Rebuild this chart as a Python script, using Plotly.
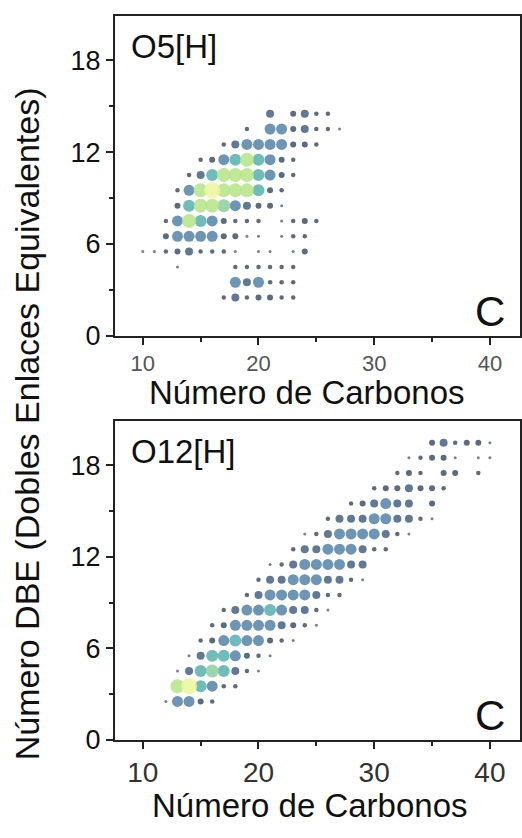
import plotly.graph_objects as go

# ---------------- Data: O5[H] (top panel) ----------------
o5_dbe_rows = [14.5, 13.5, 12.5, 11.5, 10.5, 9.5, 8.5, 7.5, 6.5, 5.5, 4.5, 3.5, 2.5]
o5_carbons_by_row = [
    [21, 23, 24, 25, 26],
    [19, 21, 22, 23, 24, 25, 26, 27],
    [17, 18, 19, 20, 21, 22, 23, 24, 25],
    [15, 16, 17, 18, 19, 20, 21, 22, 23],
    [14, 15, 16, 17, 18, 19, 20, 21, 22, 23],
    [13, 14, 15, 16, 17, 18, 19, 20, 21, 22],
    [13, 14, 15, 16, 17, 18, 19, 20, 21, 22],
    [12, 13, 14, 15, 16, 17, 18, 19, 20, 22, 23, 24, 25],
    [12, 13, 14, 15, 16, 17, 18, 19, 20, 22, 23, 24],
    [10, 11, 12, 13, 14, 15, 16, 17, 18, 20, 21, 23, 24],
    [13, 18, 19, 20, 21, 22, 23],
    [18, 19, 20, 21, 22, 23],
    [17, 18, 19, 20, 21, 22, 23],
]
o5_intensity_by_row = [
    [4, 3, 4, 2, 2],
    [2, 5, 5, 3, 4, 2, 2, 1],
    [2, 4, 5, 5, 5, 5, 3, 3, 2],
    [2, 3, 5, 6, 8, 6, 5, 3, 2],
    [2, 4, 6, 8, 8, 8, 6, 5, 3, 2],
    [2, 5, 8, 9, 8, 8, 8, 6, 3, 2],
    [3, 6, 8, 8, 7, 5, 4, 3, 3, 1],
    [2, 5, 8, 6, 5, 3, 2, 2, 2, 1, 2, 3, 2],
    [3, 5, 5, 5, 5, 3, 3, 1, 1, 1, 2, 2],
    [1, 1, 2, 3, 4, 2, 2, 2, 1, 1, 1, 1, 3],
    [1, 2, 2, 2, 2, 2, 2],
    [5, 4, 5, 2, 2, 2],
    [2, 4, 2, 3, 3, 2, 2],
]

# ---------------- Data: O12[H] (bottom panel) ----------------
o12_dbe_rows = [19.5, 18.5, 17.5, 16.5, 15.5, 14.5, 13.5, 12.5, 11.5, 10.5,
                9.5, 8.5, 7.5, 6.5, 5.5, 4.5, 3.5, 2.5]
o12_carbons_by_row = [
    [35, 36, 37, 38, 39, 40],
    [33, 34, 35, 36, 37, 39, 40],
    [32, 33, 34, 36, 37, 39],
    [30, 31, 32, 33, 34, 35, 36],
    [28, 29, 30, 31, 32, 33, 35],
    [26, 27, 28, 29, 30, 31, 32, 33, 34, 35],
    [24, 25, 26, 27, 28, 29, 30, 31, 32, 33],
    [23, 24, 25, 26, 27, 28, 29, 30, 31],
    [21, 22, 23, 24, 25, 26, 27, 28, 29],
    [20, 21, 22, 23, 24, 25, 26, 27, 28, 29],
    [19, 20, 21, 22, 23, 24, 25, 26, 27],
    [17, 18, 19, 20, 21, 22, 23, 24, 25, 26],
    [16, 17, 18, 19, 20, 21, 22, 23, 24, 25],
    [15, 16, 17, 18, 19, 20, 21, 22, 23],
    [14, 15, 16, 17, 18, 19, 20, 21],
    [13, 14, 15, 16, 17, 18, 19, 20],
    [13, 14, 15, 16, 17, 18],
    [12, 13, 14, 15, 16],
]
o12_intensity_by_row = [
    [3, 4, 2, 3, 3, 1],
    [1, 2, 3, 3, 1, 1, 1],
    [2, 3, 2, 3, 3, 2],
    [2, 3, 3, 4, 3, 3, 2],
    [2, 3, 4, 5, 4, 4, 3],
    [2, 4, 4, 4, 5, 5, 4, 4, 2, 1],
    [1, 2, 4, 5, 5, 5, 5, 4, 2, 1],
    [2, 4, 4, 5, 5, 5, 4, 2, 2],
    [1, 2, 4, 5, 5, 5, 5, 4, 4],
    [2, 4, 4, 5, 5, 5, 4, 4, 2, 1],
    [2, 4, 5, 5, 5, 5, 4, 2, 2],
    [2, 4, 5, 5, 6, 5, 4, 4, 2, 1],
    [2, 3, 5, 5, 5, 5, 4, 3, 2, 1],
    [2, 3, 5, 6, 5, 5, 3, 2, 1],
    [1, 4, 6, 6, 5, 3, 2, 1],
    [1, 4, 6, 7, 6, 4, 2, 1],
    [8, 9, 6, 5, 2, 2],
    [1, 5, 5, 3, 2],
]

x_tick_labels = ["10", "20", "30", "40"]
y_tick_labels = ["0", "6", "12", "18"]
panel_labels = ["O5[H]", "O12[H]"]

# ---------------- Styling helpers ----------------
FONT = "Liberation Sans, Arial, sans-serif"
SIZE_BY_LEVEL = {1: 3, 2: 4.5, 3: 6, 4: 8, 5: 11, 6: 12, 7: 13, 8: 14, 9: 16}
COLORSCALE = [
    [0.000, "#66707a"],
    [0.125, "#4b5868"],
    [0.250, "#46566b"],
    [0.375, "#4d6784"],
    [0.500, "#5a86a8"],
    [0.625, "#5cb3b0"],
    [0.750, "#8fd0a0"],
    [0.875, "#b8e48a"],
    [1.000, "#ecf69e"],
]


def flatten(rows, carbons, intens):
    xs, ys, ls = [], [], []
    for d, cs, li in zip(rows, carbons, intens):
        for c, l in zip(cs, li):
            xs.append(c)
            ys.append(d)
            ls.append(l)
    order = sorted(range(len(ls)), key=lambda i: ls[i])
    return [xs[i] for i in order], [ys[i] for i in order], [ls[i] for i in order]


fig = go.Figure()

for idx, (rows, cs, li) in enumerate([
    (o5_dbe_rows, o5_carbons_by_row, o5_intensity_by_row),
    (o12_dbe_rows, o12_carbons_by_row, o12_intensity_by_row),
]):
    x, y, lv = flatten(rows, cs, li)
    fig.add_trace(go.Scatter(
        x=x, y=y, mode="markers",
        xaxis="x" if idx == 0 else "x2",
        yaxis="y" if idx == 0 else "y2",
        marker=dict(
            size=[SIZE_BY_LEVEL[v] for v in lv],
            color=lv, cmin=1, cmax=9, colorscale=COLORSCALE,
            opacity=0.88, line=dict(width=0),
        ),
        showlegend=False, hoverinfo="x+y",
    ))

W, H = 522, 838
x_dom = [115 / W, 520 / W]
top_dom = [1 - 342 / H, 1 - 16 / H]
bot_dom = [1 - 753 / H, 1 - 429 / H]


def xaxis(domain_anchor, tick_color, tick_size):
    return dict(
        domain=x_dom, anchor=domain_anchor, range=[7.6, 42.6],
        tickmode="array", tickvals=[10, 20, 30, 40], ticktext=x_tick_labels,
        ticks="outside", ticklen=7, tickwidth=2, tickcolor="#222",
        minor=dict(tickmode="array", tickvals=[15, 25, 35], ticks="outside",
                   ticklen=4, tickwidth=2, tickcolor="#222"),
        showline=True, linecolor="#222", linewidth=2, mirror=True,
        showgrid=False, zeroline=False,
        tickfont=dict(family=FONT, size=tick_size, color=tick_color),
    )


def yaxis(domain, anchor):
    return dict(
        domain=domain, anchor=anchor, range=[0, 20.9],
        tickmode="array", tickvals=[0, 6, 12, 18], ticktext=y_tick_labels,
        ticks="outside", ticklen=7, tickwidth=2, tickcolor="#222",
        minor=dict(tickmode="array", tickvals=[3, 9, 15], ticks="outside",
                   ticklen=4, tickwidth=2, tickcolor="#222"),
        showline=True, linecolor="#222", linewidth=2, mirror=True,
        showgrid=False, zeroline=False,
        tickfont=dict(family=FONT, size=27, color="#111"),
    )


annotations = [
    dict(text=panel_labels[0], xref="x domain", yref="y domain", x=0.035, y=0.905,
         xanchor="left", yanchor="middle", showarrow=False,
         font=dict(family=FONT, size=33, color="#111")),
    dict(text="C", xref="x domain", yref="y domain", x=0.926, y=0.077,
         xanchor="center", yanchor="middle", showarrow=False,
         font=dict(family=FONT, size=42, color="#111")),
    dict(text=panel_labels[1], xref="x2 domain", yref="y2 domain", x=0.035, y=0.904,
         xanchor="left", yanchor="middle", showarrow=False,
         font=dict(family=FONT, size=33, color="#111")),
    dict(text="C", xref="x2 domain", yref="y2 domain", x=0.926, y=0.074,
         xanchor="center", yanchor="middle", showarrow=False,
         font=dict(family=FONT, size=42, color="#111")),
    dict(text="Número de Carbonos", xref="paper", yref="paper",
         x=307 / W, y=1 - 400 / H, xanchor="center", yanchor="middle",
         showarrow=False, font=dict(family=FONT, size=33, color="#111")),
    dict(text="Número de Carbonos", xref="paper", yref="paper",
         x=310 / W, y=1 - 820 / H, xanchor="center", yanchor="middle",
         showarrow=False, font=dict(family=FONT, size=33, color="#111")),
    dict(text="Número DBE (Dobles Enlaces Equivalentes)", xref="paper", yref="paper",
         x=27 / W, y=1 - 432 / H, xanchor="center", yanchor="middle", textangle=-90,
         showarrow=False, font=dict(family=FONT, size=34, color="#111")),
]

fig.update_layout(
    width=W, height=H,
    margin=dict(l=0, r=0, t=0, b=0),
    paper_bgcolor="white", plot_bgcolor="white",
    xaxis=xaxis("y", "#555", 22),
    yaxis=yaxis(top_dom, "x"),
    xaxis2=xaxis("y2", "#333", 28),
    yaxis2=yaxis(bot_dom, "x2"),
    annotations=annotations,
)

fig.write_html("out.html")
